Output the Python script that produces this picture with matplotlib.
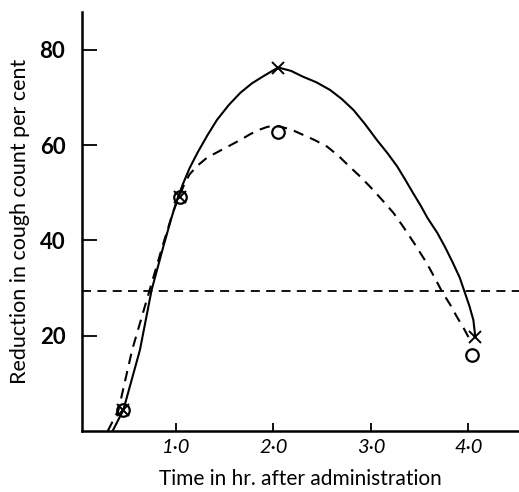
import matplotlib.pyplot as plt

# measured points
cross_x = [0.46, 1.04, 2.05, 4.07]
cross_y = [4.4, 49.2, 76.3, 19.7]
circle_x = [0.46, 1.04, 2.05, 4.04]
circle_y = [4.4, 49.2, 62.8, 16.0]

solid_x = [0.35, 0.46, 0.63, 0.75, 0.87, 0.95, 1.01, 1.07, 1.14, 1.22, 1.32, 1.42, 1.54,
           1.66, 1.78, 1.89, 1.98, 2.05, 2.18, 2.30, 2.44, 2.58, 2.70, 2.82, 2.94,
           3.06, 3.17, 3.27, 3.35, 3.43, 3.51, 3.58, 3.68, 3.76, 3.84, 3.91, 3.96,
           4.01, 4.05, 4.07]
solid_y = [0.0, 4.4, 17.0, 29.6, 38.7, 44.5, 48.5, 51.8, 55.2, 58.4, 62.0, 65.3, 68.4,
           71.0, 73.0, 74.4, 75.5, 76.3, 75.6, 74.4, 73.2, 71.6, 69.7, 67.4, 64.4,
           61.1, 58.3, 55.5, 52.8, 50.0, 47.3, 44.7, 41.6, 38.6, 35.3, 32.2, 29.2,
           26.2, 23.3, 19.7]
dashed_x = [0.30, 0.41, 0.55, 0.73, 0.86, 0.97, 1.04, 1.09, 1.14, 1.22, 1.32, 1.43, 1.55,
            1.66, 1.76, 1.85, 1.93, 2.00, 2.05, 2.18, 2.30, 2.42, 2.55, 2.67, 2.78,
            2.89, 2.99, 3.11, 3.23, 3.33, 3.45, 3.57, 3.65, 3.73, 3.81, 3.88, 3.95, 4.00]
dashed_y = [0.0, 4.4, 17.0, 29.6, 38.7, 46.0, 49.6, 52.0, 53.9, 55.7, 57.4, 58.6, 59.9,
            61.1, 62.3, 63.2, 63.8, 64.1, 64.0, 63.3, 62.2, 61.1, 59.7, 57.7, 55.5,
            53.4, 51.3, 48.6, 45.8, 42.9, 39.2, 35.3, 32.3, 29.2, 26.6, 24.0, 21.6, 19.7]
threshold = 29.4

xticks = [1.0, 2.0, 3.0, 4.0]
xtick_labels = ['1·0', '2·0', '3·0', '4·0']
yticks = [20, 40, 60, 80]

plt.rcParams['font.family'] = ['Lato', 'DejaVu Sans']

fig = plt.figure(figsize=(5.19, 4.92), dpi=100)
ax = fig.add_axes([0.158, 0.124, 0.842, 0.852])

ax.plot(solid_x, solid_y, color='black', lw=1.5)
ax.plot(dashed_x, dashed_y, color='black', lw=1.5, ls=(0, (5, 3.5)))
ax.axhline(threshold, color='black', lw=1.3, ls=(0, (5, 3.5)))
ax.plot(cross_x, cross_y, 'x', color='black', ms=9, mew=1.4)
ax.plot(circle_x, circle_y, 'o', mfc='none', mec='black', ms=9, mew=1.6)

ax.set_xlim(0.036, 4.518)
ax.set_ylim(0, 88)
ax.set_xticks(xticks)
ax.set_xticklabels(xtick_labels, fontstyle='italic', fontsize=14.5)
ax.set_yticks(yticks)
ax.set_yticklabels([str(v) for v in yticks], fontweight='bold', fontsize=16)
ax.tick_params(axis='y', direction='in', length=11, width=1.3, pad=12)
ax.tick_params(axis='x', direction='in', length=6, width=1.3, pad=6)

for side in ['top', 'right']:
    ax.spines[side].set_visible(False)
for side in ['left', 'bottom']:
    ax.spines[side].set_linewidth(1.8)

ax.set_xlabel('Time in hr. after administration', fontsize=15, labelpad=9)
ax.set_ylabel('Reduction in cough count per cent', fontsize=15.5, labelpad=7)

fig.savefig('out.png', dpi=100)
